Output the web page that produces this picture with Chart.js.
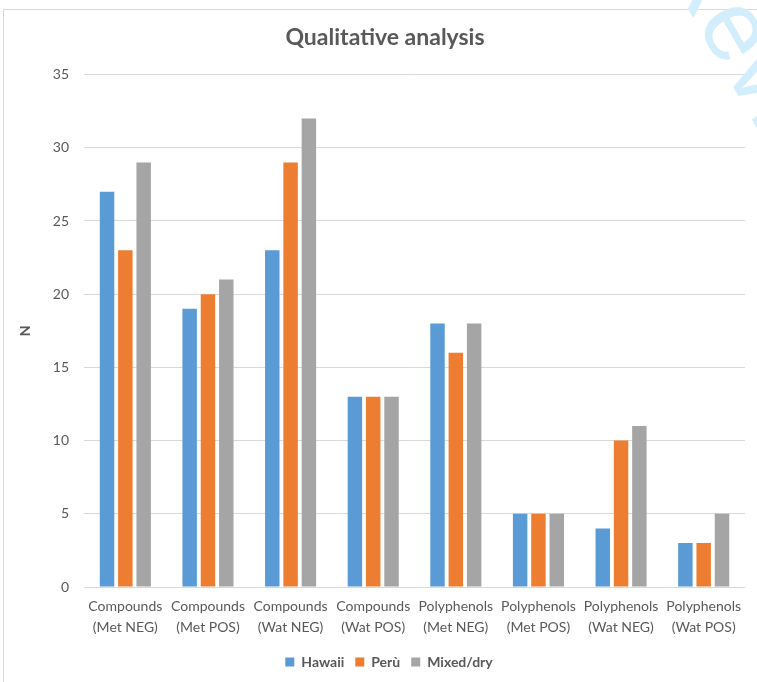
<!DOCTYPE html>
<html>
<head>
<meta charset="utf-8">
<script src="https://cdn.jsdelivr.net/npm/chart.js@4/dist/chart.umd.min.js"></script>
<style>
  html, body { margin: 0; padding: 0; background: #fff; }
  #wrap { position: relative; width: 757px; height: 682px; overflow: hidden; }
  #frame { position: absolute; left: 3px; top: 9px; width: 800px; height: 700px; border: 1px solid #d9d9d9; box-sizing: border-box; }
  canvas { position: absolute; left: 0; top: 0; }
</style>
</head>
<body>
<div id="wrap">
  <div id="frame"></div>
  <canvas id="c" width="757" height="682"></canvas>
</div>
<script>
const categories = [
  ['Compounds', '(Met NEG)'],
  ['Compounds', '(Met POS)'],
  ['Compounds', '(Wat NEG)'],
  ['Compounds', '(Wat POS)'],
  ['Polyphenols', '(Met NEG)'],
  ['Polyphenols', '(Met POS)'],
  ['Polyphenols', '(Wat NEG)'],
  ['Polyphenols', '(Wat POS)']
];
const hawaii = [27, 19, 23, 13, 18, 5, 4, 3];
const peru = [23, 20, 29, 13, 16, 5, 10, 3];
const mixedDry = [29, 21, 32, 13, 18, 5, 11, 5];
const seriesNames = ['Hawaii', 'Perù', 'Mixed/dry'];
const seriesColors = ['#5b9bd5', '#ed7d31', '#a5a5a5'];

const textColor = '#595959';
const gridColor = '#d9d9d9';
const fontFamily = 'Lato, "Open Sans", sans-serif';

// Title and legend sit centred over the plot area rather than the whole canvas
const centreOnPlot = {
  id: 'centreOnPlot',
  afterLayout(chart) {
    const t = chart.titleBlock;
    if (t) { t.left += 6; t.right += 6; }
    const l = chart.legend;
    if (l) { l.left += 10; l.right += 10; l.top -= 3; l.bottom -= 3; }
  }
};

// Faint diagonal "Review" stamp running off the upper right corner
const stampPlugin = {
  id: 'stamp',
  afterDraw(chart) {
    const ctx = chart.ctx;
    const word = 'Review';
    ctx.save();
    ctx.font = '100px "Liberation Sans", Arial, sans-serif';
    const lead = ctx.measureText('R').width + ctx.measureText('e').width / 2;
    ctx.translate(732, 33);
    ctx.rotate(60 * Math.PI / 180);
    ctx.fillStyle = '#d2edfc';
    ctx.textBaseline = 'alphabetic';
    ctx.textAlign = 'left';
    ctx.fillText(word, -lead, 26);
    ctx.restore();
  }
};

new Chart(document.getElementById('c'), {
  type: 'bar',
  data: {
    labels: categories,
    datasets: [
      { label: seriesNames[0], data: hawaii, backgroundColor: seriesColors[0] },
      { label: seriesNames[1], data: peru, backgroundColor: seriesColors[1] },
      { label: seriesNames[2], data: mixedDry, backgroundColor: seriesColors[2] }
    ]
  },
  options: {
    responsive: false,
    animation: false,
    devicePixelRatio: 1,
    layout: { padding: { left: 13, right: 12, top: 6, bottom: 0 } },
    datasets: {
      bar: { categoryPercentage: 0.665, barPercentage: 0.79, borderWidth: 0 }
    },
    plugins: {
      title: {
        display: true,
        text: 'Qualitative analysis',
        color: textColor,
        font: { family: fontFamily, size: 23, weight: 'bold' },
        padding: { top: 18, bottom: 23 }
      },
      legend: {
        position: 'bottom',
        labels: {
          color: textColor,
          font: { family: fontFamily, size: 14, weight: 'bold' },
          boxWidth: 9,
          boxHeight: 9,
          padding: 11
        }
      },
      tooltip: { enabled: false }
    },
    scales: {
      x: {
        grid: { display: false, drawTicks: false },
        border: { display: false },
        ticks: {
          color: textColor,
          font: { family: fontFamily, size: 14, lineHeight: 1.5 },
          maxRotation: 0,
          autoSkip: false,
          padding: 9
        }
      },
      y: {
        min: 0,
        max: 35,
        ticks: {
          stepSize: 5,
          color: textColor,
          font: { family: fontFamily, size: 14 },
          padding: 15
        },
        grid: { color: gridColor, lineWidth: 1, drawTicks: false },
        border: { display: false },
        title: {
          display: true,
          text: 'N',
          color: textColor,
          font: { family: fontFamily, size: 14, weight: 'bold' },
          padding: { bottom: 4 }
        }
      }
    }
  },
  plugins: [centreOnPlot, stampPlugin]
});
</script>
</body>
</html>
